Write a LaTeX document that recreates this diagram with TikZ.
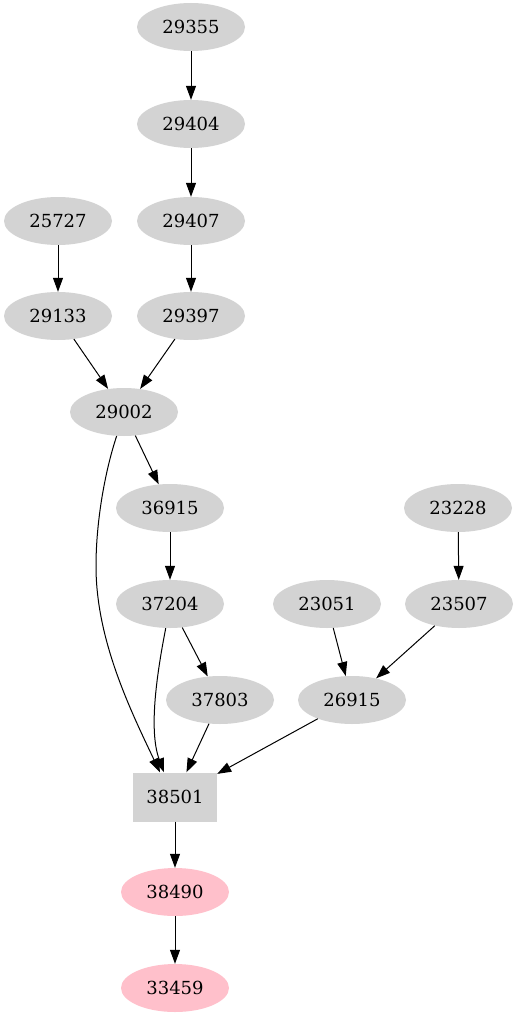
\documentclass[tikz,border=0pt]{standalone}
\usepackage{fontspec}
\setmainfont{DejaVu Serif}
\usetikzlibrary{shapes.geometric,arrows.meta}
\definecolor{ngray}{HTML}{D3D3D3}
\definecolor{npink}{HTML}{FFC0CB}
\tikzset{
  gnode/.style={ellipse, fill=ngray, draw=none, minimum width=108pt, minimum height=48pt, inner sep=0pt, font=\fontsize{18}{20}\selectfont},
  pnode/.style={gnode, fill=npink},
  bnode/.style={rectangle, fill=ngray, draw=none, minimum width=84pt, minimum height=49pt, inner sep=0pt, font=\fontsize{18}{20}\selectfont},
  edge/.style={draw=black, line width=1pt, -{Triangle[length=14pt,width=10pt]}}
}
\begin{document}
\begin{tikzpicture}[x=1pt,y=1pt]
\useasboundingbox (0,0) rectangle (518,-1019);
\node[gnode] (29355) at (191,-27) {29355};
\node[gnode] (29404) at (191,-124) {29404};
\node[gnode] (25727) at (58,-221) {25727};
\node[gnode] (29407) at (191,-221) {29407};
\node[gnode] (29133) at (58,-316) {29133};
\node[gnode] (29397) at (191,-316) {29397};
\node[gnode] (29002) at (124,-412) {29002};
\node[gnode] (36915) at (170,-508) {36915};
\node[gnode] (23228) at (458,-508) {23228};
\node[gnode] (37204) at (170,-604) {37204};
\node[gnode] (23051) at (327,-604) {23051};
\node[gnode] (23507) at (459,-604) {23507};
\node[gnode] (37803) at (220,-700) {37803};
\node[gnode] (26915) at (352,-700) {26915};
\node[bnode] (38501) at (175,-797) {38501};
\node[pnode] (38490) at (175,-892) {38490};
\node[pnode] (33459) at (175,-988) {33459};

\draw[edge] (29355) -- (29404);
\draw[edge] (29404) -- (29407);
\draw[edge] (29407) -- (29397);
\draw[edge] (25727) -- (29133);
\draw[edge] (29133) -- (29002);
\draw[edge] (29397) -- (29002);
\draw[edge] (29002) -- (36915);
\draw[edge] (36915) -- (37204);
\draw[edge] (37204) -- (37803);
\draw[edge] (23228) -- (23507);
\draw[edge] (23051) -- (26915);
\draw[edge] (23507) -- (26915);
\draw[edge] (37803) -- (38501);
\draw[edge] (26915) -- (38501);
\draw[edge] (29002.-107) .. controls +(-11,-33) and +(0,47) .. ([xshift=-79pt,yshift=206pt]38501.north) .. controls +(0,-73) and +(-30,63) .. ([xshift=-15pt]38501.north);
\draw[edge] (37204.-100) .. controls +(-8,-41) and +(-16,43) .. ([xshift=-11pt]38501.north);
\draw[edge] (38501) -- (38490);
\draw[edge] (38490) -- (33459);
\end{tikzpicture}
\end{document}
